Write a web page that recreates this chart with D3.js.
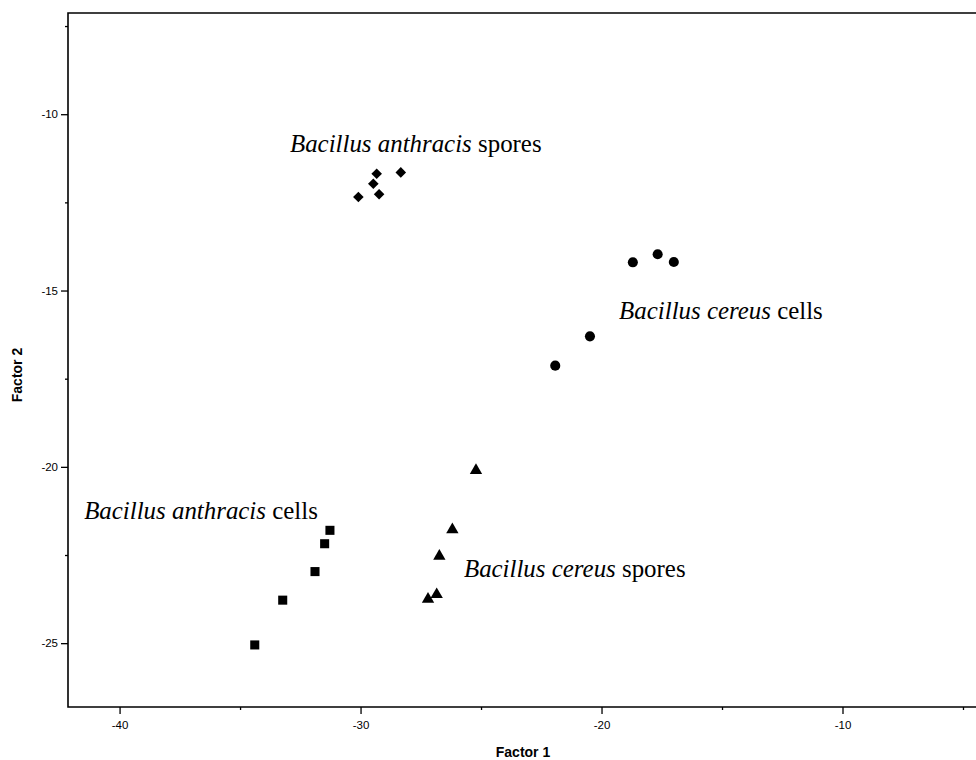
<!DOCTYPE html>
<html>
<head>
<meta charset="utf-8">
<script src="https://cdn.jsdelivr.net/npm/d3@7"></script>
<style>
  body { margin: 0; background: #fff; }
  svg { display: block; }
</style>
</head>
<body>
<div id="chart"></div>
<script>
// groups (Factor 1, Factor 2)
const antSporeX = [-30.09, -29.47, -29.33, -29.23, -28.33];
const antSporeY = [-12.35, -11.97, -11.69, -12.27, -11.65];

const cerCellX = [-21.92, -20.48, -18.70, -17.67, -17.00];
const cerCellY = [-17.13, -16.30, -14.20, -13.97, -14.19];

const antCellX = [-31.27, -31.49, -31.89, -33.23, -34.39];
const antCellY = [-21.80, -22.18, -22.97, -23.78, -25.05];

const cerSporeX = [-25.21, -26.19, -26.73, -26.84, -27.20];
const cerSporeY = [-20.10, -21.78, -22.53, -23.62, -23.75];

const xTicks = [-40, -30, -20, -10];
const xMinor = [-35, -25, -15, -5];
const yTicks = [-10, -15, -20, -25];
const yMinor = [-7.5, -12.5, -17.5, -22.5];

// label text split into italic genus/species + plain word, anchored in data units
const labels = [
  {italic: "Bacillus anthracis", plain: "spores", x: -32.93, y: -11.07},
  {italic: "Bacillus cereus", plain: "cells", x: -19.27, y: -15.80},
  {italic: "Bacillus anthracis", plain: "cells", x: -41.47, y: -21.49},
  {italic: "Bacillus cereus", plain: "spores", x: -25.71, y: -23.11}
];

// diamonds are squares turned 45 degrees
const groups = [
  {xs: antSporeX, ys: antSporeY, shape: d3.symbolSquare, size: 56, rot: 45},
  {xs: cerCellX, ys: cerCellY, shape: d3.symbolCircle, size: 80, rot: 0},
  {xs: antCellX, ys: antCellY, shape: d3.symbolSquare, size: 82, rot: 0},
  {xs: cerSporeX, ys: cerSporeY, shape: d3.symbolTriangle, size: 66, rot: 0}
];

const width = 976, height = 760;
const margin = {top: 13, right: 0, bottom: 53, left: 68};

const svg = d3.select('#chart').append('svg')
    .attr('width', width)
    .attr('height', height);

const x = d3.scaleLinear()
    .domain([-42.14, -4.46])
    .range([margin.left, width - margin.right]);

const y = d3.scaleLinear()
    .domain([-26.81, -7.13])
    .range([height - margin.bottom, margin.top]);

const axisFont = "'Liberation Sans', Arial, sans-serif";
const plainNum = d => String(d);   // ascii hyphen like the original

// bottom axis
const gx = svg.append('g')
    .attr('transform', `translate(0,${height - margin.bottom})`);
gx.call(d3.axisBottom(x).tickValues(xTicks).tickSize(7).tickPadding(7).tickFormat(plainNum));
gx.append('g').call(d3.axisBottom(x).tickValues(xMinor).tickSize(3).tickFormat(''))
    .select('.domain').remove();

// left axis
const gy = svg.append('g')
    .attr('transform', `translate(${margin.left},0)`);
gy.call(d3.axisLeft(y).tickValues(yTicks).tickSize(7).tickPadding(3).tickFormat(plainNum));
gy.append('g').call(d3.axisLeft(y).tickValues(yMinor).tickSize(3).tickFormat(''))
    .select('.domain').remove();

svg.selectAll('.domain').remove();
svg.selectAll('.tick line').attr('stroke', '#000').attr('stroke-width', 1.3);
svg.selectAll('.tick text')
    .attr('fill', '#000')
    .style('font-family', axisFont)
    .style('font-size', '11.5px');

// frame: left, bottom, top
svg.append('path')
    .attr('d', `M${width},${margin.top}H${margin.left}V${height - margin.bottom}H${width}`)
    .attr('fill', 'none')
    .attr('stroke', '#000')
    .attr('stroke-width', 1.6);

// markers
groups.forEach(g => {
  svg.append('g').selectAll('path')
    .data(g.xs.map((v, i) => [v, g.ys[i]]))
    .join('path')
      .attr('transform', d => `translate(${x(d[0])},${y(d[1])}) rotate(${g.rot})`)
      .attr('d', d3.symbol().type(g.shape).size(g.size))
      .attr('fill', '#000');
});

// group labels
labels.forEach(l => {
  const t = svg.append('text')
      .attr('x', x(l.x))
      .attr('y', y(l.y))
      .style('font-family', "'Liberation Serif', 'Times New Roman', serif")
      .style('font-size', '24.9px')
      .attr('fill', '#000');
  t.append('tspan').style('font-style', 'italic').text(l.italic);
  t.append('tspan').text(' ' + l.plain);
});

// axis titles
svg.append('text')
    .attr('x', 523)
    .attr('y', 757)
    .attr('text-anchor', 'middle')
    .style('font-family', axisFont)
    .style('font-size', '14px')
    .style('font-weight', 'bold')
    .text('Factor 1');

svg.append('text')
    .attr('transform', `translate(22,${375}) rotate(-90)`)
    .attr('text-anchor', 'middle')
    .style('font-family', axisFont)
    .style('font-size', '14px')
    .style('font-weight', 'bold')
    .text('Factor 2');
</script>
</body>
</html>
